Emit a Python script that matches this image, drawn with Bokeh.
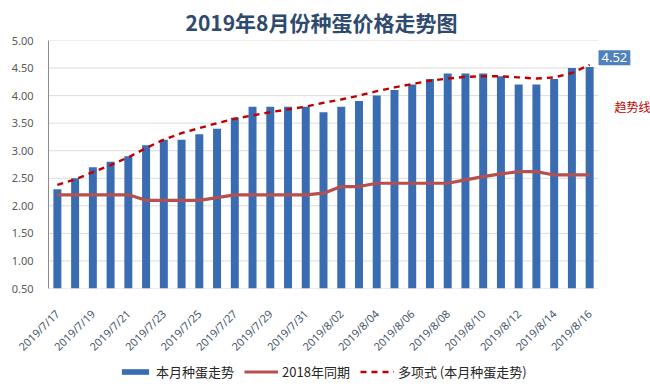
import math
from bokeh.plotting import figure
from bokeh.layouts import column
from bokeh.models import (Range1d, FixedTicker, NumeralTickFormatter, Legend, LegendItem,
                          Label, ColumnDataSource)
from bokeh.embed import file_html
from bokeh.resources import INLINE

dates = ["2019/7/17", "2019/7/18", "2019/7/19", "2019/7/20", "2019/7/21", "2019/7/22",
         "2019/7/23", "2019/7/24", "2019/7/25", "2019/7/26", "2019/7/27", "2019/7/28",
         "2019/7/29", "2019/7/30", "2019/7/31", "2019/8/01", "2019/8/02", "2019/8/03",
         "2019/8/04", "2019/8/05", "2019/8/06", "2019/8/07", "2019/8/08", "2019/8/09",
         "2019/8/10", "2019/8/11", "2019/8/12", "2019/8/13", "2019/8/14", "2019/8/15",
         "2019/8/16"]
price_2019 = [2.30, 2.50, 2.70, 2.80, 2.90, 3.10, 3.20, 3.20, 3.30, 3.40, 3.60, 3.80,
              3.80, 3.80, 3.80, 3.70, 3.80, 3.90, 4.00, 4.10, 4.20, 4.30, 4.40, 4.40,
              4.40, 4.35, 4.20, 4.20, 4.30, 4.50, 4.52]
price_2018 = [2.20, 2.20, 2.20, 2.20, 2.20, 2.10, 2.10, 2.10, 2.10, 2.15, 2.20, 2.20,
              2.20, 2.20, 2.20, 2.23, 2.35, 2.35, 2.41, 2.41, 2.41, 2.41, 2.41, 2.47,
              2.53, 2.58, 2.62, 2.62, 2.56, 2.56, 2.56]
trend = [2.38, 2.48, 2.61, 2.74, 2.88, 3.05, 3.20, 3.32, 3.41, 3.50, 3.58, 3.64,
         3.70, 3.75, 3.80, 3.87, 3.93, 4.00, 4.08, 4.15, 4.21, 4.27, 4.31, 4.34,
         4.35, 4.35, 4.33, 4.31, 4.33, 4.41, 4.56]
y_ticks = [0.5, 1.0, 1.5, 2.0, 2.5, 3.0, 3.5, 4.0, 4.5, 5.0]

n = len(dates)
idx = list(range(n))
src = ColumnDataSource(dict(x=idx, p19=price_2019, p18=price_2018, tr=trend))

CJK = "Noto Sans CJK SC"
BAR = dict(width=0.45, fill_color="#3a6cb2", line_color=None)
L18 = dict(line_color="#b5504e", line_width=3.2)
LTR = dict(line_color="#c00000", line_width=2.4, line_dash="6 5")
XR = (-0.5, 33.43)

# main chart; the frame runs to the right edge so the side notes sit inside it
p = figure(width=650, height=363, output_backend="svg", toolbar_location=None,
           x_range=Range1d(*XR), y_range=Range1d(0.5, 5.0),
           min_border_left=48, min_border_right=0, min_border_top=40, min_border_bottom=75,
           title="2019年8月份种蛋价格走势图")
p.outline_line_color = None
p.border_fill_color = "white"

p.title.align = "left"
p.title.offset = 137
p.title.standoff = 8
p.title.text_font = CJK
p.title.text_font_size = "21px"
p.title.text_font_style = "bold"
p.title.text_color = "#2e4a6e"

# horizontal grid lines spanning the category area only
p.segment(x0=-0.5, x1=n - 0.5, y0=y_ticks, y1=y_ticks, line_color="#dcdcdc", line_width=1)

p.vbar(x="x", top="p19", bottom=0.5, source=src, **BAR)
p.line(x="x", y="p18", source=src, **L18)
p.line(x="x", y="tr", source=src, **LTR)

p.xaxis.ticker = FixedTicker(ticks=idx[::2])
p.xaxis.major_label_overrides = {i: dates[i] for i in idx[::2]}
p.xaxis.major_label_orientation = math.pi / 4
p.xaxis.major_tick_line_color = None
p.xaxis.minor_tick_line_color = None
p.xaxis.axis_line_color = None
p.xaxis.major_label_text_font = "Noto Sans"
p.xaxis.major_label_text_font_size = "11px"
p.xaxis.major_label_text_color = "#44546a"
p.xaxis.major_label_standoff = 17

p.yaxis.ticker = FixedTicker(ticks=y_ticks)
p.yaxis.formatter = NumeralTickFormatter(format="0.00")
p.yaxis.major_tick_line_color = None
p.yaxis.minor_tick_line_color = None
p.yaxis.axis_line_color = "#8c8c8c"
p.yaxis.major_label_text_font = "Noto Sans"
p.yaxis.major_label_text_font_size = "11px"
p.yaxis.major_label_text_color = "#595959"
p.yaxis.major_label_standoff = 9

p.xgrid.grid_line_color = None
p.ygrid.grid_line_color = None

p.add_layout(Label(x=idx[-1] + 0.5, y=price_2019[-1] + 0.03, text=f"{price_2019[-1]:.2f}",
                   text_font="Noto Sans", text_font_size="13px", text_color="white",
                   background_fill_color="#4f81bd", padding=3))
p.add_layout(Label(x=idx[-1] + 1.4, y=3.64, text="趋势线", text_font=CJK,
                   text_font_size="12px", text_color="#c00000"))

# legend strip: same series drawn off-range so only the legend shows
q = figure(width=650, height=29, output_backend="svg", toolbar_location=None,
           x_axis_type=None, y_axis_type=None,
           x_range=Range1d(*XR), y_range=Range1d(100, 101),
           min_border_left=0, min_border_right=0, min_border_top=0, min_border_bottom=0)
q.grid.grid_line_color = None
q.outline_line_color = None
q.background_fill_color = "white"
q.border_fill_color = "white"
rb = q.vbar(x="x", top="p19", bottom=0.5, source=src, **BAR)
r18 = q.line(x="x", y="p18", source=src, **L18)
rtr = q.line(x="x", y="tr", source=src, **LTR)
legend = Legend(items=[LegendItem(label="本月种蛋走势", renderers=[rb]),
                       LegendItem(label="2018年同期", renderers=[r18]),
                       LegendItem(label="多项式 (本月种蛋走势)", renderers=[rtr])],
                orientation="horizontal", location=(70, 11),
                label_text_font=CJK, label_text_font_size="13px", label_text_color="#262626",
                glyph_width=34, glyph_height=7, label_height=16, label_standoff=4, spacing=10,
                padding=0, margin=0, border_line_color=None, background_fill_alpha=0)
q.add_layout(legend, "center")

open("out.html", "w").write(file_html(column(p, q), INLINE))
